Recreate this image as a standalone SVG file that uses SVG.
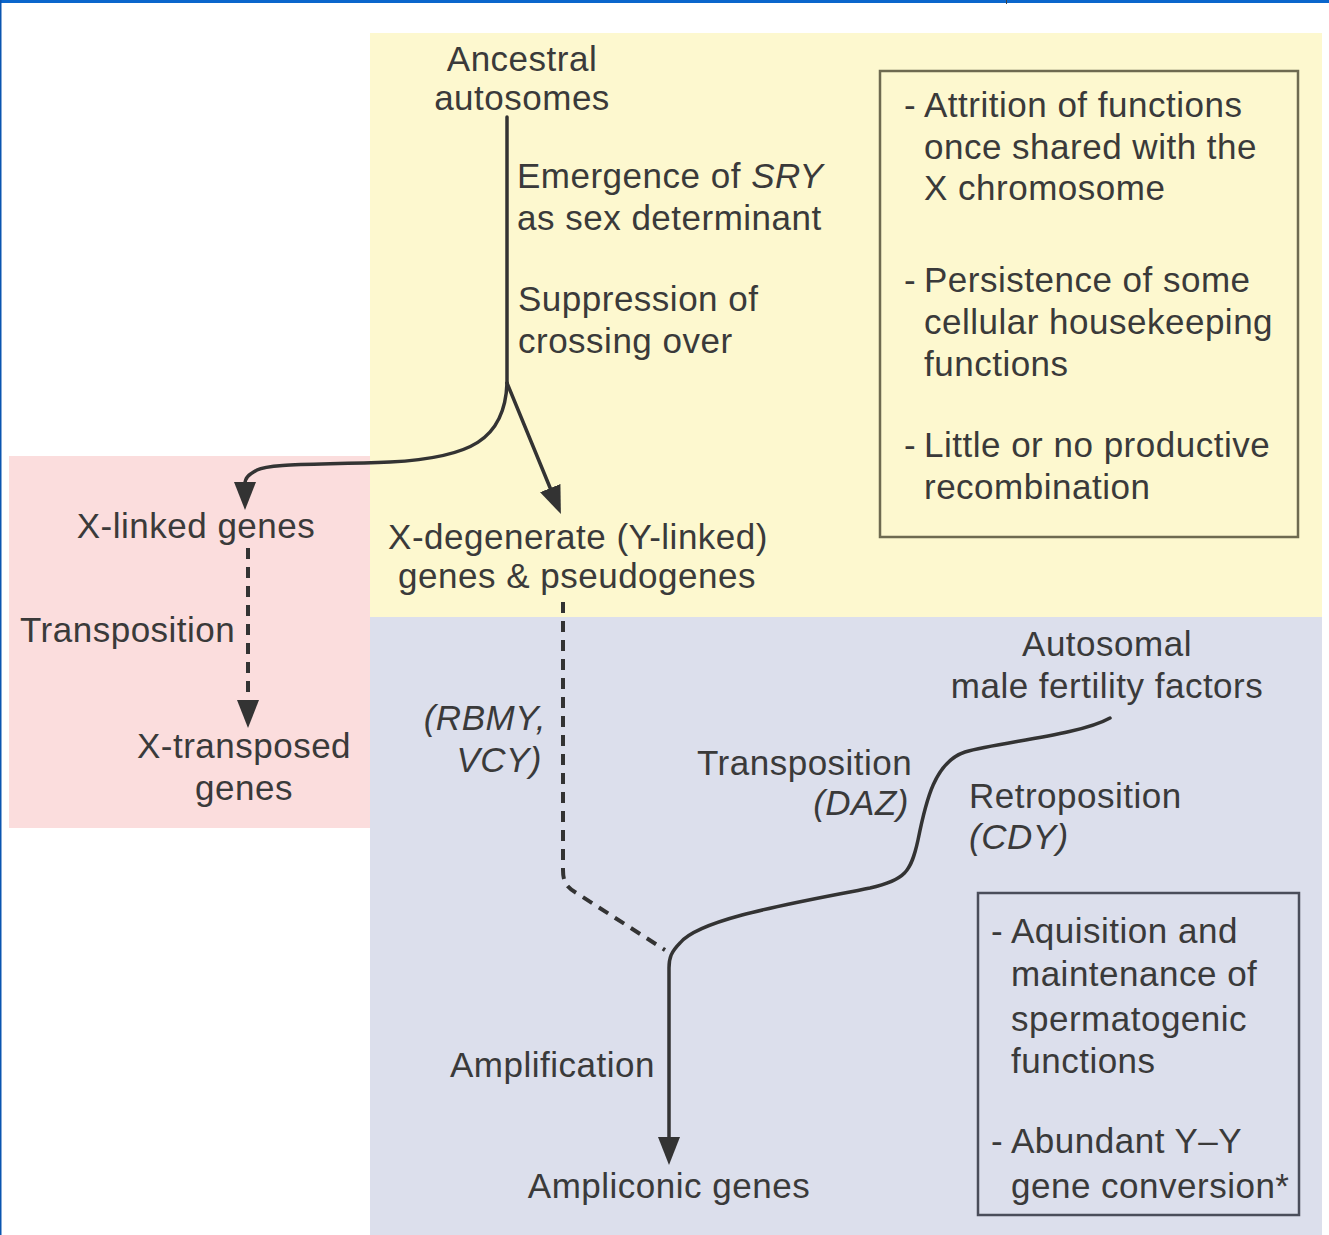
<svg xmlns="http://www.w3.org/2000/svg" width="1329" height="1235" viewBox="0 0 1329 1235">
<style>
  text { font-family: "Liberation Sans", Arial, sans-serif; font-size: 35px; fill: #3a3a3a; letter-spacing: 0.5px; }
  .it { font-style: italic; }
  .mid { text-anchor: middle; }
  .end { text-anchor: end; }
  .solid { fill: none; stroke: #333; stroke-width: 3.5; stroke-linecap: round; stroke-linejoin: round; }
  .dash { fill: none; stroke: #333; stroke-width: 4; stroke-dasharray: 11 8; }
</style>
<defs>
  <marker id="arr" viewBox="0 0 28 22" refX="2" refY="11" markerWidth="28" markerHeight="22" markerUnits="userSpaceOnUse" orient="auto">
    <path d="M0,0 L28,11 L0,22 Z" fill="#333"/>
  </marker>
</defs>
<rect width="1329" height="1235" fill="#ffffff"/>
<!-- background zones -->
<rect x="370" y="33" width="952" height="584" fill="#fdf8cf"/>
<rect x="370" y="617" width="952" height="618" fill="#dcdfec"/>
<rect x="9" y="456" width="361" height="372" fill="#fbdddd"/>
<!-- frame -->
<rect x="0" y="0" width="1329" height="3" fill="#0a66cc"/>
<rect x="0" y="0" width="1.5" height="1235" fill="#0a55b0"/>
<rect x="1006" y="0" width="1" height="4" fill="#444"/>

<g id="connectors">
  <path class="solid" d="M507,117 L507,383"/>
  <path class="solid" d="M507,383 C505,440 470,458 390,462 C320,465 270,463 257,470 C248,475 245,478 245,484" marker-end="url(#arr)"/>
  <path class="solid" d="M507,383 L551,490" marker-end="url(#arr)"/>
  <path class="dash" d="M248,548 L248,702"/>
  <path d="M237,700 L259,700 L248,728 Z" fill="#333"/>
  <path class="dash" d="M563,602 L563,870 C563,884 568,888 578,894 L665,950"/>
  <path class="solid" d="M1110,718 C1080,735 1000,742 965,752 C935,762 926,800 918,840 C911,872 905,880 870,888 C800,902 700,918 680,943 C671,952 669,958 669,968 L669,1139" marker-end="url(#arr)"/>
</g>

<g id="node-ancestral">
  <text class="mid" x="522" y="71">Ancestral</text>
  <text class="mid" x="522" y="110">autosomes</text>
</g>
<g id="label-emergence">
  <text x="517" y="188">Emergence of <tspan class="it">SRY</tspan></text>
  <text x="517" y="230">as sex determinant</text>
</g>
<g id="label-suppression">
  <text x="518" y="311">Suppression of</text>
  <text x="518" y="353">crossing over</text>
</g>
<g id="box-top">
  <rect x="880" y="71" width="418" height="466" fill="none" stroke="#6e6a50" stroke-width="2.5"/>
  <text x="904" y="117">-</text><text x="924" y="117">Attrition of functions</text>
  <text x="924" y="159">once shared with the</text>
  <text x="924" y="200">X chromosome</text>
  <text x="904" y="292">-</text><text x="924" y="292">Persistence of some</text>
  <text x="924" y="334">cellular housekeeping</text>
  <text x="924" y="376">functions</text>
  <text x="904" y="457">-</text><text x="924" y="457">Little or no productive</text>
  <text x="924" y="499">recombination</text>
</g>
<g id="node-xlinked">
  <text class="mid" x="196" y="538">X-linked genes</text>
</g>
<g id="node-xdegenerate">
  <text class="mid" x="578" y="549">X-degenerate (Y-linked)</text>
  <text class="mid" x="577" y="588">genes &amp; pseudogenes</text>
</g>
<g id="label-transposition-left">
  <text x="20" y="642">Transposition</text>
</g>
<g id="node-xtransposed">
  <text class="mid" x="244" y="758">X-transposed</text>
  <text class="mid" x="244" y="800">genes</text>
</g>
<g id="label-rbmy">
  <text class="it end" x="546" y="730">(RBMY,</text>
  <text class="it end" x="542" y="772">VCY)</text>
</g>
<g id="node-autosomal">
  <text class="mid" x="1107" y="656">Autosomal</text>
  <text class="mid" x="1107" y="698">male fertility factors</text>
</g>
<g id="label-transposition-daz">
  <text x="697" y="775">Transposition</text>
  <text class="it end" x="909" y="815">(DAZ)</text>
</g>
<g id="label-retroposition">
  <text x="969" y="808">Retroposition</text>
  <text class="it" x="969" y="849">(CDY)</text>
</g>
<g id="box-bottom">
  <rect x="978" y="893" width="321" height="322" fill="none" stroke="#4a4d5a" stroke-width="2.5"/>
  <text x="991" y="943">-</text><text x="1011" y="943">Aquisition and</text>
  <text x="1011" y="986">maintenance of</text>
  <text x="1011" y="1031">spermatogenic</text>
  <text x="1011" y="1073">functions</text>
  <text x="991" y="1153">-</text><text x="1011" y="1153">Abundant Y–Y</text>
  <text x="1011" y="1198">gene conversion*</text>
</g>
<g id="label-amplification">
  <text x="450" y="1077">Amplification</text>
</g>
<g id="node-ampliconic">
  <text class="mid" x="669" y="1198">Ampliconic genes</text>
</g>
</svg>
